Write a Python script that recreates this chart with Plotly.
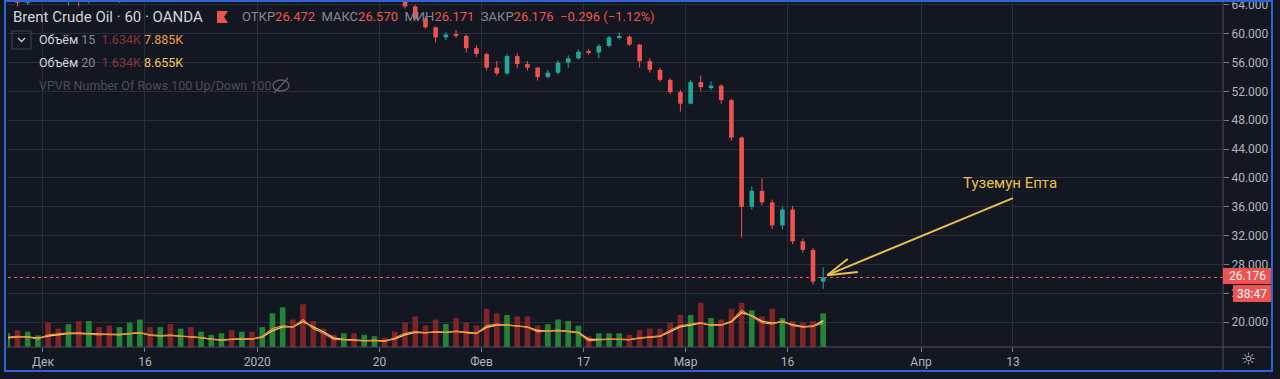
import numpy as np
import pandas as pd
import plotly.graph_objects as go

# ---------------- data (daily) ----------------
holidays = ["2019-12-25", "2020-01-01"]
dates = [d for d in pd.bdate_range("2019-11-26", "2020-03-19")
         if d.strftime("%Y-%m-%d") not in holidays]

opens = [64.6, 64.9, 64.3, 65.0,
         65.5, 65.4, 64.8, 65.0, 64.6,
         65.7, 65.6, 65.1, 65.3, 66.2,
         67.2, 67.0, 67.5, 67.4, 67.8,
         67.6, 67.7, 68.2, 68.6, 68.4, 68.6,
         68.0, 68.7, 70.6, 71.2, 70.6, 68.0, 67.9,
         67.6, 67.1, 67.3, 66.9, 67.5, 67.7, 66.8,
         65.3, 63.8, 62.1, 60.9, 59.5, 59.9, 59.7, 58.0,
         57.2, 55.3, 54.5, 56.9, 55.8,
         55.3, 54.0, 54.6, 56.0, 56.6,
         57.5, 57.4, 58.3, 59.5, 59.6,
         58.5, 56.2, 55.0, 53.6, 51.9,
         50.3, 53.3, 52.6, 52.8, 50.8,
         45.6, 36.0, 38.2, 36.6, 33.4,
         35.6, 31.2, 30.0, 25.6]
highs = [65.3, 65.4, 65.2, 65.8,
         66.2, 65.8, 65.4, 65.6, 65.9,
         66.2, 65.9, 65.6, 66.4, 67.4,
         67.6, 67.6, 67.9, 68.0, 68.0,
         67.9, 68.3, 68.7, 69.0, 69.1, 68.8,
         68.9, 71.3, 72.4, 71.7, 73.0, 68.6, 68.5,
         67.9, 67.7, 67.6, 67.7, 68.0, 68.1, 67.1,
         65.5, 64.0, 62.4, 61.0, 60.2, 60.5, 59.9, 58.4,
         57.4, 56.2, 57.2, 57.3, 56.2,
         55.4, 55.0, 56.3, 57.0, 57.8,
         57.9, 58.6, 59.7, 60.2, 59.8,
         58.6, 56.6, 55.3, 53.8, 52.2,
         53.6, 54.2, 53.4, 53.0, 51.0,
         45.7, 38.8, 39.9, 37.0, 36.0,
         36.1, 31.6, 30.3, 27.6]
lows = [64.0, 63.8, 64.0, 65.0,
        65.1, 64.5, 63.9, 63.8, 64.2,
        65.0, 64.6, 64.3, 65.1, 65.9,
        66.8, 66.7, 67.1, 67.1, 67.3,
        67.3, 67.5, 67.9, 68.2, 68.2, 67.8,
        67.6, 68.5, 70.2, 70.1, 67.6, 67.4, 67.3,
        66.8, 66.7, 66.6, 66.8, 67.2, 66.6, 65.1,
        63.5, 61.9, 60.7, 58.8, 59.1, 59.4, 57.4, 56.8,
        54.9, 54.2, 54.3, 55.2, 54.9,
        53.5, 53.8, 54.4, 55.3, 56.4,
        57.1, 56.6, 58.1, 59.2, 58.3,
        55.3, 54.6, 53.3, 51.6, 49.2,
        50.2, 52.0, 52.2, 50.3, 45.2,
        31.7, 35.6, 36.2, 32.9, 32.9,
        30.8, 29.6, 25.2, 24.6]
closes = [64.9, 64.3, 65.0, 65.5,
          65.4, 64.8, 65.0, 64.6, 65.7,
          65.6, 65.1, 65.3, 66.2, 67.2,
          67.0, 67.5, 67.4, 67.8, 67.6,
          67.7, 68.2, 68.6, 68.4, 68.6, 68.0,
          68.7, 70.6, 71.2, 70.6, 68.0, 67.9, 67.6,
          67.1, 67.3, 66.9, 67.5, 67.7, 66.8, 65.3,
          63.8, 62.1, 60.9, 59.5, 59.9, 59.7, 58.0, 57.2,
          55.3, 54.5, 56.9, 55.8, 55.3,
          54.0, 54.6, 56.0, 56.6, 57.5,
          57.4, 58.3, 59.5, 59.6, 58.5,
          56.2, 55.0, 53.6, 51.9, 50.3,
          53.3, 52.6, 52.8, 50.8, 45.6,
          36.0, 38.2, 36.6, 33.4, 35.6,
          31.2, 30.0, 25.6, 26.176]
volume_k = [4.5, 5.5, 5.0, 3.8,
            8.0, 6.0, 7.5, 8.5, 8.5,
            6.5, 7.0, 6.5, 8.0, 9.0,
            6.5, 6.5, 7.5, 6.0, 6.5,
            5.0, 4.0, 4.5, 5.5, 5.0, 5.0,
            6.5, 11.0, 13.0, 9.0, 14.0, 8.5, 6.0,
            4.0, 4.5, 4.5, 4.0, 3.5, 3.0, 5.0,
            8.0, 10.0, 7.0, 9.0, 7.5, 9.5, 8.0, 7.0,
            12.5, 11.0, 10.5, 10.0, 10.0,
            7.0, 7.5, 9.0, 8.5, 7.0,
            3.5, 4.5, 4.5, 4.5, 4.0,
            5.5, 6.0, 6.0, 8.0, 10.5,
            10.5, 14.5, 9.5, 9.0, 12.5,
            14.5, 12.0, 10.0, 12.5, 9.5,
            8.5, 8.0, 8.5, 11.0]
ma15_k = [3.2, 3.5, 3.3, 2.6,
          4.0, 4.3, 4.6, 4.5, 4.2,
          4.0, 4.2, 4.0, 4.4, 4.8,
          3.8, 3.6, 3.9, 3.5, 3.4,
          3.0, 2.4, 2.2, 2.6, 2.8, 2.5,
          3.5, 6.0, 7.0, 6.5, 9.0, 6.0, 4.5,
          2.5, 2.3, 2.2, 2.0, 2.2, 1.8, 3.0,
          4.5, 5.0, 4.6, 5.0, 4.8, 5.2, 4.6, 4.4,
          7.0, 7.5, 7.2, 6.8, 6.5,
          5.0, 5.2, 5.5, 5.0, 4.6,
          2.0, 2.4, 2.6, 2.5, 2.4,
          3.0, 3.2, 3.6, 5.5, 7.0,
          7.5, 8.0, 7.0, 7.2, 8.5,
          12.0, 10.0, 8.0, 7.5, 8.5,
          7.0, 6.5, 6.8, 7.885]
ma20_k = [3.0, 3.3, 3.3, 2.9,
          3.6, 4.1, 4.4, 4.5, 4.3,
          4.1, 4.1, 4.1, 4.3, 4.6,
          4.0, 3.7, 3.8, 3.6, 3.4,
          3.1, 2.6, 2.3, 2.5, 2.7, 2.6,
          3.2, 5.3, 6.6, 6.6, 8.3, 6.6, 5.0,
          3.0, 2.5, 2.3, 2.1, 2.2, 2.0, 2.7,
          4.0, 4.8, 4.7, 4.9, 4.8, 5.1, 4.8, 4.5,
          6.4, 7.2, 7.2, 6.9, 6.6,
          5.4, 5.2, 5.4, 5.1, 4.8,
          2.5, 2.4, 2.5, 2.5, 2.4,
          2.9, 3.1, 3.5, 5.0, 6.6,
          7.2, 7.8, 7.2, 7.2, 8.2,
          11.2, 10.3, 8.5, 7.8, 8.3,
          7.3, 6.7, 6.8, 8.655]

tick_labels = ["Дек", "16", "2020", "20", "Фев", "17", "Мар", "16", "Апр", "13"]
tick_dates = ["2019-12-02", "2019-12-16", "2020-01-02", "2020-01-20", "2020-02-03",
              "2020-02-17", "2020-03-02", "2020-03-16"]
future_ticks = [86.1, 95.1]          # Апр, 13 in the empty future zone
last_price = 26.176

# ---------------- derived positions ----------------
date_str = [d.strftime("%Y-%m-%d") for d in dates]
origin = date_str.index("2019-12-02")
idx = np.arange(len(dates)) - origin
x = idx + 0.5
tickvals = [date_str.index(d) - origin for d in tick_dates] + future_ticks
UP, DN = "#26a69a", "#ef5350"
is_up = [c >= o for o, c in zip(opens, closes)]
vol_colors = ["rgba(40,160,60,0.8)" if u else "rgba(155,40,40,0.8)" for u in is_up]
body_colors = [UP if u else DN for u in is_up]

BG = "#131722"
GRID = "#2a2e39"
TXT = "#b2b5be"
FONT = "Roboto, 'DejaVu Sans', sans-serif"

fig = go.Figure()
# volume overlay
fig.add_trace(go.Bar(x=x, y=volume_k, yaxis="y2", width=0.55,
                     marker=dict(color=vol_colors, line_width=0), hoverinfo="skip"))
fig.add_trace(go.Scatter(x=x, y=ma20_k, yaxis="y2", mode="lines",
                         line=dict(color="#f3cf7a", width=1.3), hoverinfo="skip"))
fig.add_trace(go.Scatter(x=x, y=ma15_k, yaxis="y2", mode="lines",
                         line=dict(color="#f08c2e", width=1.3), hoverinfo="skip"))
# candles: wicks + bodies
for flag, col in ((True, UP), (False, DN)):
    wx, wy = [], []
    for xi, h, l, u in zip(x, highs, lows, is_up):
        if u == flag:
            wx += [xi, xi, None]
            wy += [l, h, None]
    fig.add_trace(go.Scatter(x=wx, y=wy, mode="lines", line=dict(color=col, width=1),
                             hoverinfo="skip", yaxis="y"))
fig.add_trace(go.Bar(x=x, y=[c - o for o, c in zip(opens, closes)], base=opens, width=0.45,
                     marker=dict(color=body_colors, line_width=0), yaxis="y", hoverinfo="skip"))

W, H = 1280, 379
L, R, T, B = 8, 57, 2, 32
PW, PH = W - L - R, H - T - B


def px(v):
    return (v - L) / PW


def py(v):
    return 1 - (v - T) / PH


shapes = []
annos = []
# last price dotted line
shapes.append(dict(type="line", xref="paper", yref="y", x0=0, x1=1, y0=last_price, y1=last_price,
                   line=dict(color="#ef5350", width=1, dash="dot"), layer="above"))
# axis separators
shapes.append(dict(type="line", xref="paper", yref="paper", x0=px(1223), x1=px(1223), y0=py(0), y1=py(371),
                   line=dict(color="#50535e", width=1)))
shapes.append(dict(type="line", xref="paper", yref="paper", x0=px(5), x1=px(1272), y0=py(347), y1=py(347),
                   line=dict(color="#50535e", width=1)))
# price label boxes
shapes.append(dict(type="rect", xref="paper", yref="paper", x0=px(1223), x1=px(1272), y0=py(284), y1=py(268),
                   fillcolor="#ef5350", line_width=0, layer="above"))
shapes.append(dict(type="rect", xref="paper", yref="paper", x0=px(1233), x1=px(1272), y0=py(302), y1=py(285),
                   fillcolor="#ef5350", line_width=0, layer="above"))
annos.append(dict(xref="paper", yref="paper", x=px(1247), y=py(276), text="26.176", showarrow=False,
                  font=dict(color="white", size=12, family=FONT), xanchor="center", yanchor="middle"))
annos.append(dict(xref="paper", yref="paper", x=px(1252), y=py(293.5), text="38:47", showarrow=False,
                  font=dict(color="white", size=12, family=FONT), xanchor="center", yanchor="middle"))
# gear
annos.append(dict(xref="paper", yref="paper", x=px(1248), y=py(359), text="☼", showarrow=False,
                  font=dict(color=TXT, size=17, family="DejaVu Sans"), xanchor="center", yanchor="middle"))
# blue frame
shapes.append(dict(type="rect", xref="paper", yref="paper", x0=px(5), x1=px(1272), y0=py(371), y1=py(1),
                   line=dict(color="#2f63d6", width=2), layer="above"))

# header
annos.append(dict(xref="paper", yref="paper", x=px(11), y=py(17), text="Brent Crude Oil · 60 · OANDA",
                  showarrow=False, xanchor="left", yanchor="middle",
                  font=dict(color="#d1d4dc", size=15, family=FONT)))
shapes.append(dict(type="path", xref="paper", yref="paper",
                   path=f"M {px(217)},{py(11)} L {px(228)},{py(11)} L {px(224)},{py(17)} L {px(228)},{py(23)} L {px(217)},{py(23)} Z",
                   fillcolor="#ef5350", line_width=0))
red = "#ef5350"
ohlc = (f"ОТКР<span style='color:{red}'>26.472</span>  МАКС<span style='color:{red}'>26.570</span>  "
        f"МИН<span style='color:{red}'>26.171</span>  ЗАКР<span style='color:{red}'>26.176</span>  "
        f"<span style='color:{red}'>−0.296 (−1.12%)</span>")
annos.append(dict(xref="paper", yref="paper", x=px(240), y=py(17), text=ohlc, showarrow=False,
                  xanchor="left", yanchor="middle", font=dict(color="#868993", size=13, family=FONT)))
# indicator rows
shapes.append(dict(type="rect", xref="paper", yref="paper", x0=px(12), x1=px(31), y0=py(49), y1=py(31),
                   line=dict(color="#434651", width=1)))
shapes.append(dict(type="path", xref="paper", yref="paper",
                   path=f"M {px(18)},{py(38)} L {px(21.5)},{py(41.5)} L {px(25)},{py(38)}",
                   line=dict(color="#d1d4dc", width=1.3)))
annos.append(dict(xref="paper", yref="paper", x=px(37), y=py(40),
                  text="Объём <span style='color:#868993'>15</span>  <span style='color:#8a3535'>1.634K</span> <span style='color:#f39b45'>7.885K</span>",
                  showarrow=False, xanchor="left", yanchor="middle", font=dict(color="#d1d4dc", size=12.5, family=FONT)))
annos.append(dict(xref="paper", yref="paper", x=px(37), y=py(62),
                  text="Объём <span style='color:#868993'>20</span>  <span style='color:#8a3535'>1.634K</span> <span style='color:#f5c65c'>8.655K</span>",
                  showarrow=False, xanchor="left", yanchor="middle", font=dict(color="#d1d4dc", size=12.5, family=FONT)))
annos.append(dict(xref="paper", yref="paper", x=px(37), y=py(85),
                  text="VPVR Number Of Rows 100 Up/Down 100",
                  showarrow=False, xanchor="left", yanchor="middle", font=dict(color="#4a4e59", size=12.5, family=FONT)))
shapes.append(dict(type="circle", xref="paper", yref="paper", x0=px(273), x1=px(289), y0=py(91), y1=py(80),
                   line=dict(color="#5d606b", width=1.3)))
shapes.append(dict(type="line", xref="paper", yref="paper", x0=px(274), x1=px(288), y0=py(93), y1=py(78),
                   line=dict(color="#5d606b", width=1.3)))

# user drawing: arrow with text
ARW = "#e9c04a"
arrow_tail = (95.1, 37.2)
arrow_tip = (76.9, 26.5)
barbs = [(78.9, 28.74), (79.9, 26.94)]
shapes.append(dict(type="line", xref="x", yref="y", x0=arrow_tail[0], y0=arrow_tail[1], x1=arrow_tip[0], y1=arrow_tip[1],
                   line=dict(color=ARW, width=2), layer="above"))
for bx, by in barbs:
    shapes.append(dict(type="line", xref="x", yref="y", x0=arrow_tip[0], y0=arrow_tip[1], x1=bx, y1=by,
                       line=dict(color=ARW, width=2), layer="above"))
annos.append(dict(xref="x", yref="y", x=94.8, y=39.3, text="Туземун Епта", showarrow=False,
                  font=dict(color=ARW, size=15, family=FONT), xanchor="center", yanchor="middle"))

fig.update_layout(
    width=W, height=H, margin=dict(l=L, r=R, t=T, b=B, autoexpand=False),
    paper_bgcolor=BG, plot_bgcolor=BG, showlegend=False, barmode="overlay",
    xaxis=dict(range=[-3.43, 115.7], tickvals=tickvals, ticktext=tick_labels, showgrid=True,
               gridcolor=GRID, gridwidth=1, ticks="outside", ticklen=4, tickcolor="#787b86",
               tickfont=dict(color=TXT, size=12, family=FONT), zeroline=False,
               showline=False, automargin=False),
    yaxis=dict(side="right", range=[16.53, 64.41], tick0=0, dtick=4, tickformat=".3f",
               showgrid=True, gridcolor=GRID, gridwidth=1, ticks="outside", ticklen=5,
               tickcolor="#787b86", tickfont=dict(color=TXT, size=12, family=FONT), zeroline=False,
               automargin=False, ticklabeloverflow="allow"),
    yaxis2=dict(overlaying="y", range=[0, 113], visible=False, showgrid=False, automargin=False),
    shapes=shapes, annotations=annos,
)

fig.write_html("out.html", config={"displayModeBar": False},
               post_script="document.body.style.margin='0';document.body.style.padding='0';"
                           "document.body.style.background='#131722';")
